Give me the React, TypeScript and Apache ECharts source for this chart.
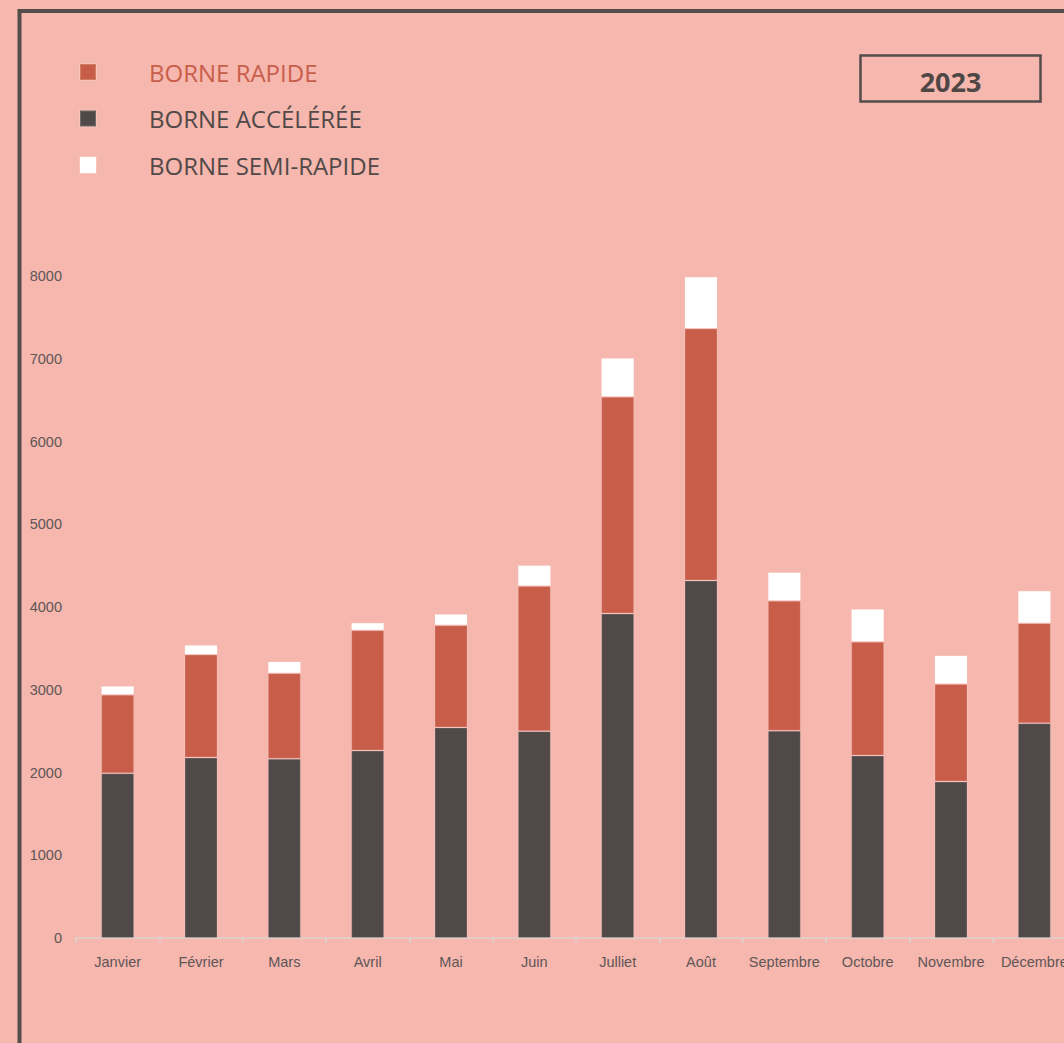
import React, { useEffect, useRef } from "react";
import * as echarts from "echarts";

const months = ["Janvier", "Février", "Mars", "Avril", "Mai", "Juin", "Julliet", "Août", "Septembre", "Octobre", "Novembre", "Décembre"];
const accelereeValues = [1990, 2180, 2165, 2265, 2545, 2500, 3920, 4320, 2505, 2205, 1890, 2595];
const rapideValues = [950, 1245, 1035, 1455, 1235, 1755, 2620, 3045, 1570, 1375, 1180, 1210];
const semiRapideValues = [105, 115, 140, 90, 135, 250, 470, 625, 345, 395, 345, 390];
const yTicks = { min: 0, max: 8000, interval: 1000 };
const yearLabel = "2023";

const BG = "#f6b7ae";
const RED = "#c85e4a";
const DARK = "#514948";
const TEXT = "#5f5656";
const NARROW = '"Liberation Sans", Arial, sans-serif';

export default function App() {
  const ref = useRef<HTMLDivElement>(null);
  useEffect(() => {
    if (!ref.current) return;
    const chart = echarts.init(ref.current, undefined, { renderer: "svg" });
    const barBorder = { borderColor: "rgba(255,255,255,0.18)", borderWidth: 1 };
    chart.setOption({
      animation: false,
      backgroundColor: BG,
      legend: {
        orient: "vertical",
        left: 74,
        top: 55,
        itemWidth: 16,
        itemHeight: 16,
        itemGap: 22.5,
        icon: "rect",
        selectedMode: false,
        textStyle: {
          fontFamily: '"Open Sans", sans-serif',
          fontSize: 24,
          color: DARK,
          padding: [0, 0, 0, 48],
        },
        data: [
          { name: "BORNE RAPIDE", textStyle: { color: RED } },
          { name: "BORNE ACCÉLÉRÉE" },
          { name: "BORNE SEMI-RAPIDE" },
        ],
      },
      grid: { left: 76, top: 276, width: 1000, height: 662, containLabel: false },
      xAxis: {
        type: "category",
        data: months,
        axisLine: { lineStyle: { color: "#dcd3d1", width: 1.5 } },
        axisTick: { show: true, length: 5, lineStyle: { color: "#dcd3d1", width: 1.5 } },
        axisLabel: { color: TEXT, fontFamily: NARROW, fontSize: 14.5, margin: 16, interval: 0 },
      },
      yAxis: {
        type: "value",
        min: yTicks.min,
        max: yTicks.max,
        interval: yTicks.interval,
        splitLine: { show: false },
        axisLine: { show: false },
        axisTick: { show: false },
        axisLabel: {
          color: TEXT,
          fontFamily: NARROW,
          fontSize: 14.5,
          margin: 14,
          formatter: (v: number) => String(v),
        },
      },
      series: [
        {
          name: "BORNE ACCÉLÉRÉE",
          type: "bar",
          stack: "total",
          barWidth: 33,
          data: accelereeValues,
          itemStyle: { color: DARK, ...barBorder },
        },
        {
          name: "BORNE RAPIDE",
          type: "bar",
          stack: "total",
          barWidth: 33,
          data: rapideValues,
          itemStyle: { color: RED, ...barBorder },
        },
        {
          name: "BORNE SEMI-RAPIDE",
          type: "bar",
          stack: "total",
          barWidth: 33,
          data: semiRapideValues,
          itemStyle: { color: "#ffffff", ...barBorder },
        },
      ],
      graphic: [
        {
          type: "rect",
          shape: { x: 19.5, y: 11, width: 1300, height: 1300 },
          style: { fill: "none", stroke: "#544c4b", lineWidth: 4 },
          silent: true,
        },
        {
          type: "rect",
          shape: { x: 860.5, y: 55.5, width: 180, height: 46 },
          style: { fill: "none", stroke: "#544c4b", lineWidth: 2.5 },
          silent: true,
        },
        {
          type: "text",
          x: 950.5,
          y: 81,
          style: {
            text: yearLabel,
            fill: "#4f4746",
            font: 'bold 27px "Open Sans", sans-serif',
            textAlign: "center",
            textVerticalAlign: "middle",
          },
          silent: true,
        },
      ],
    });
    return () => chart.dispose();
  }, []);
  return (
    <div style={{ position: "fixed", left: 0, top: 0, width: "100vw", height: "100vh", overflow: "hidden", background: BG }}>
      <div ref={ref} style={{ width: 1120, height: 1043 }} />
    </div>
  );
}
